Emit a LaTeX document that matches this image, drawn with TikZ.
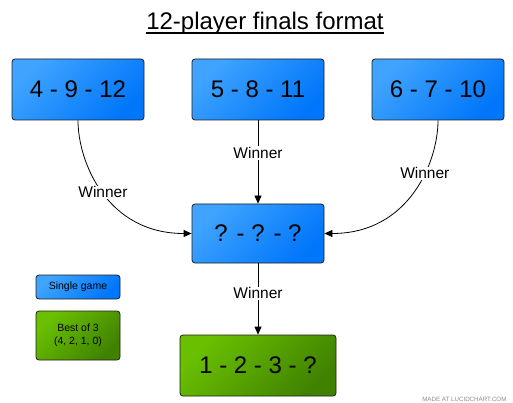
\documentclass[tikz,border=0pt]{standalone}
\usepackage{fontspec}
\setmainfont{Liberation Sans}
\usetikzlibrary{arrows.meta,calc}
\definecolor{blueA}{RGB}{64,164,255}
\definecolor{blueB}{RGB}{0,118,250}
\definecolor{greenA}{RGB}{106,192,0}
\definecolor{greenB}{RGB}{64,130,0}
\definecolor{edgegray}{RGB}{30,30,30}
\begin{document}
\begin{tikzpicture}[x=1pt,y=-1pt,
  boxbase/.style={draw=edgegray, line width=0.8pt, rounded corners=3pt, inner sep=0pt, align=center},
  bluebox/.style={boxbase, top color=blueA, bottom color=blueB, shading angle=45},
  greenbox/.style={boxbase, top color=greenA, bottom color=greenB, shading angle=45},
  bigtext/.style={font=\fontsize{24}{28}\selectfont},
  smalltext/.style={font=\fontsize{10.5}{13}\selectfont},
  lbl/.style={fill=white, inner sep=1pt, font=\fontsize{15.5}{18}\selectfont},
  arr/.style={draw=black, line width=0.8pt, -{Triangle[length=8pt,width=7pt]}}
]
\useasboundingbox (0,0) rectangle (513,403);
\fill[white] (0,0) rectangle (513,403);

\node[anchor=base, inner sep=0pt, font=\fontsize{24}{28}\selectfont] (title) at (265,29.5) {12-player finals format};
\draw[line width=1.3pt] ([yshift=-3.6pt]title.base west) -- ([yshift=-3.6pt]title.base east);

\node[bluebox, bigtext, minimum width=132pt, minimum height=61pt] (b1) at (78,89.5) {4 - 9 - 12};
\node[bluebox, bigtext, minimum width=132pt, minimum height=61pt] (b2) at (258,89.5) {5 - 8 - 11};
\node[bluebox, bigtext, minimum width=132pt, minimum height=61pt] (b3) at (438,89.5) {6 - 7 - 10};
\node[bluebox, bigtext, minimum width=132pt, minimum height=59pt] (m) at (258,233.5) {? - ? - ?};
\node[greenbox, bigtext, minimum width=156pt, minimum height=61pt] (f) at (258,365.5) {1 - 2 - 3 - ?};

\node[bluebox, smalltext, minimum width=84pt, minimum height=24pt] (leg1) at (78,287) {Single game};
\node[greenbox, smalltext, minimum width=84pt, minimum height=49pt] (leg2) at (78,335.5) {Best of 3\\(4, 2, 1, 0)};

\draw[arr] (b1.south) .. controls +(0,41) and +(-85,0) .. node[lbl,pos=0.5] {Winner} (m.west);
\draw[arr] (b3.south) .. controls +(0,41) and +(85,0) .. node[lbl,pos=0.37] {Winner} (m.east);
\draw[arr] (b2.south) -- node[lbl,pos=0.39] {Winner} (m.north);
\draw[arr] (m.south) -- node[lbl,pos=0.42] {Winner} (f.north);

\node[anchor=base east, text=black!45, font=\fontsize{6.2}{7}\selectfont] (wm) at (510,401.5) {MADE AT LUCIDCHART.COM};
\end{tikzpicture}
\end{document}
